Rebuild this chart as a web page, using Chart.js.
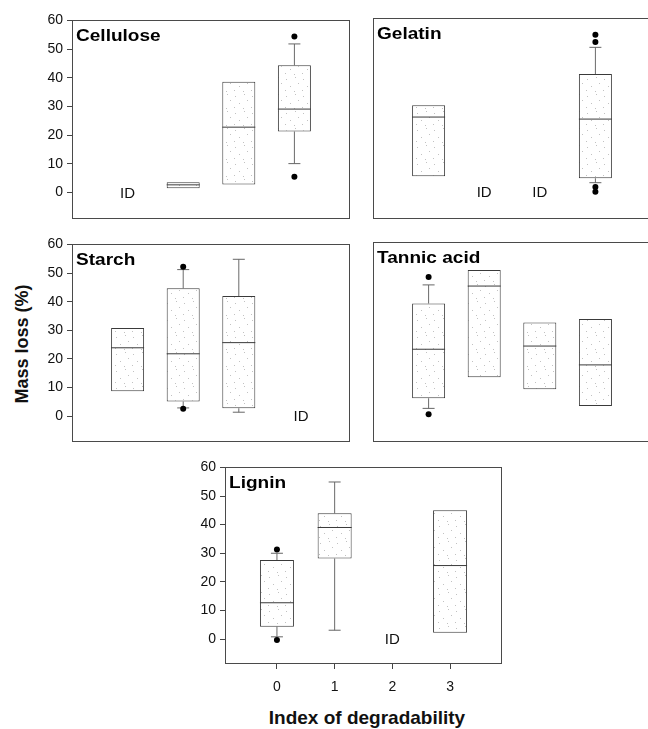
<!DOCTYPE html>
<html>
<head>
<meta charset="utf-8">
<script src="https://cdn.jsdelivr.net/npm/chart.js@4.4.1/dist/chart.umd.min.js"></script>
<style>
  body { margin: 0; background: #fff; width: 648px; height: 729px; overflow: hidden; position: relative;
         font-family: "Liberation Sans", Arial, sans-serif; }
  canvas { position: absolute; }
  .ytitle { position: absolute; left: 22px; top: 344px; transform: translate(-50%, -50%) rotate(-90deg);
            font-weight: bold; font-size: 18px; white-space: nowrap; color: #111; }
  .xtitle { position: absolute; left: 367px; top: 718px; transform: translate(-50%, -50%);
            font-weight: bold; font-size: 19px; white-space: nowrap; color: #111; }
</style>
</head>
<body>
<div class="ytitle">Mass loss (%)</div>
<div class="xtitle">Index of degradability</div>
<script>
// data; rows follow panelNames, columns follow categories
const panelNames = ['Cellulose', 'Gelatin', 'Starch', 'Tannic acid', 'Lignin'];
const categories = [0, 1, 2, 3];
const yTickValues = [0, 10, 20, 30, 40, 50, 60];

const q1 = [
  [null, 1.5, 2.8, 21.3],
  [5.5, null, null, 4.8],
  [8.7, 5.1, 2.8, null],
  [6.1, 13.3, 9.2, 3.4],
  [4.3, 28.2, null, 2.2]
];
const median = [
  [null, 2.7, 22.8, 29.1],
  [25.9, null, null, 25.2],
  [23.9, 21.8, 25.7, null],
  [23.0, 44.8, 24.1, 17.6],
  [12.7, 39.0, null, 25.7]
];
const q3 = [
  [null, 3.6, 38.6, 44.4],
  [30.0, null, null, 40.7],
  [30.8, 44.7, 42.0, null],
  [38.8, 50.3, 32.2, 33.4],
  [27.6, 44.0, null, 45.0]
];
const whiskerLow = [
  [null, null, null, 10.1],
  [null, null, null, 3.3],
  [null, 2.9, 1.4, null],
  [2.6, null, null, null],
  [0.8, 3.1, null, null]
];
const whiskerHigh = [
  [null, null, null, 51.8],
  [null, null, null, 49.9],
  [null, 51.2, 54.8, null],
  [45.2, null, null, null],
  [30.0, 54.9, null, null]
];
const outliers = [
  [[], [], [], [5.5, 54.4]],
  [[], [], [], [0.2, 1.8, 51.7, 54.2]],
  [[], [2.6, 52.2], [], []],
  [[0.6, 47.9], [], [], []],
  [[-0.3, 31.3], [], [], []]
];
// "ID" = insufficient data, placed at these index positions
const idPositions = [[0], [1, 2], [3.12], [], [2]];

// plot-area placement of each panel on the page
const frames = [
  { left: 72,  top: 18,  right: 350, bottom: 219, xMin: -1,   xMax: 4,   yMin: -9.2, yLabels: true,  xLabels: false, box: 33 },
  { left: 373, top: 18,  right: 651, bottom: 219, xMin: -1,   xMax: 4,   yMin: -9.2, yLabels: false, xLabels: false, box: 33 },
  { left: 72,  top: 242, right: 350, bottom: 442, xMin: -1,   xMax: 4,   yMin: -9,   yLabels: true,  xLabels: false, box: 33 },
  { left: 373, top: 242, right: 651, bottom: 442, xMin: -1,   xMax: 4,   yMin: -9,   yLabels: false, xLabels: false, box: 33 },
  { left: 225, top: 465, right: 502, bottom: 664, xMin: -0.9, xMax: 3.9, yMin: -8.7, yLabels: true,  xLabels: true,  box: 34 }
];
const padL = 60, padT = 10, padR = 10, padB = 45;
const fontFamily = '"Liberation Sans", Arial, sans-serif';

function stipple(ctx) {
  const c = document.createElement('canvas');
  c.width = 17; c.height = 17;
  const g = c.getContext('2d');
  g.fillStyle = '#fff';
  g.fillRect(0, 0, 17, 17);
  g.fillStyle = '#c2c2c2';
  [[2, 3], [11, 1], [6, 10], [14, 7], [1, 14], [10, 15]].forEach(d => g.fillRect(d[0], d[1], 1, 1));
  return ctx.createPattern(c, 'repeat');
}

const panelDecor = {
  id: 'panelDecor',
  afterDatasetsDraw(chart, args, opts) {
    const { ctx, chartArea: a, scales } = chart;
    ctx.save();
    ctx.strokeStyle = '#4a4a4a';
    ctx.lineWidth = 1;
    ctx.strokeRect(Math.round(a.left) + 0.5, Math.round(a.top) + 0.5,
                   Math.round(a.right - a.left) - 1, Math.round(a.bottom - a.top) - 1);
    ctx.fillStyle = '#000';
    ctx.font = 'bold 17px ' + fontFamily;
    ctx.textAlign = 'left';
    ctx.textBaseline = 'alphabetic';
    ctx.translate(a.left + 4, a.top + 21);
    ctx.scale(1.12, 1);
    ctx.fillText(opts.title, 0, 0);
    ctx.restore();

    ctx.save();
    ctx.fillStyle = '#111';
    ctx.font = '15px ' + fontFamily;
    ctx.textAlign = 'center';
    ctx.textBaseline = 'middle';
    opts.ids.forEach(c => ctx.fillText('ID', scales.x.getPixelForValue(c), scales.y.getPixelForValue(0) + 1));
    ctx.restore();
  }
};

panelNames.forEach((name, p) => {
  const f = frames[p];
  const canvas = document.createElement('canvas');
  const w = f.right - f.left + padL + padR;
  const h = f.bottom - f.top + padT + padB;
  canvas.width = w; canvas.height = h;
  canvas.style.left = (f.left - padL) + 'px';
  canvas.style.top = (f.top - padT) + 'px';
  canvas.style.width = w + 'px';
  canvas.style.height = h + 'px';
  document.body.appendChild(canvas);
  const ctx = canvas.getContext('2d');

  const boxes = [], whiskers = [], caps = [], medians = [], points = [];
  categories.forEach((c, i) => {
    if (q1[p][i] !== null) {
      boxes.push({ x: c, y: [q1[p][i], q3[p][i]] });
      medians.push({ x: c, y: median[p][i] });
    }
    if (whiskerLow[p][i] !== null) {
      whiskers.push({ x: c, y: [whiskerLow[p][i], q1[p][i]] });
      caps.push({ x: c, y: whiskerLow[p][i] });
    }
    if (whiskerHigh[p][i] !== null) {
      whiskers.push({ x: c, y: [q3[p][i], whiskerHigh[p][i]] });
      caps.push({ x: c, y: whiskerHigh[p][i] });
    }
    outliers[p][i].forEach(v => points.push({ x: c, y: v }));
  });

  new Chart(canvas, {
    type: 'bar',
    data: {
      datasets: [
        { type: 'line', data: points, showLine: false, order: 0,
          pointStyle: 'circle', pointRadius: 3, pointBackgroundColor: '#000', pointBorderWidth: 0 },
        { type: 'line', data: medians, showLine: false, order: 1,
          pointStyle: 'line', pointRadius: f.box / 2, pointBorderColor: '#3a3a3a', pointBorderWidth: 1 },
        { type: 'line', data: caps, showLine: false, order: 2,
          pointStyle: 'line', pointRadius: 6, pointBorderColor: '#666', pointBorderWidth: 1 },
        { type: 'bar', data: boxes, grouped: false, order: 3, maxBarThickness: f.box,
          backgroundColor: stipple(ctx), borderColor: '#3a3a3a', borderWidth: 1, borderSkipped: false },
        { type: 'bar', data: whiskers, grouped: false, order: 4, maxBarThickness: 1,
          backgroundColor: '#6a6a6a', borderWidth: 0 }
      ]
    },
    options: {
      responsive: false,
      maintainAspectRatio: false,
      animation: false,
      events: [],
      layout: { autoPadding: false, padding: { top: padT, right: padR, left: 0, bottom: 0 } },
      plugins: {
        legend: { display: false },
        tooltip: { enabled: false },
        panelDecor: { title: name, ids: idPositions[p] }
      },
      scales: {
        x: {
          type: 'linear', min: f.xMin, max: f.xMax, offset: false,
          afterBuildTicks: axis => { axis.ticks = categories.map(v => ({ value: v })); },
          afterFit: axis => { axis.height = padB; },
          ticks: { display: f.xLabels, color: '#111', padding: 10, font: { size: 14, family: fontFamily } },
          grid: { offset: false, drawOnChartArea: false, drawTicks: f.xLabels, tickLength: 5, color: '#444' },
          border: { display: false }
        },
        y: {
          min: f.yMin, max: 60,
          afterBuildTicks: axis => { axis.ticks = yTickValues.map(v => ({ value: v })); },
          afterFit: axis => { axis.width = padL; },
          ticks: { display: f.yLabels, color: '#111', padding: 4, font: { size: 14, family: fontFamily } },
          grid: { drawOnChartArea: false, drawTicks: f.yLabels, tickLength: 5, color: '#444' },
          border: { display: false }
        }
      }
    },
    plugins: [panelDecor]
  });
});
</script>
</body>
</html>
